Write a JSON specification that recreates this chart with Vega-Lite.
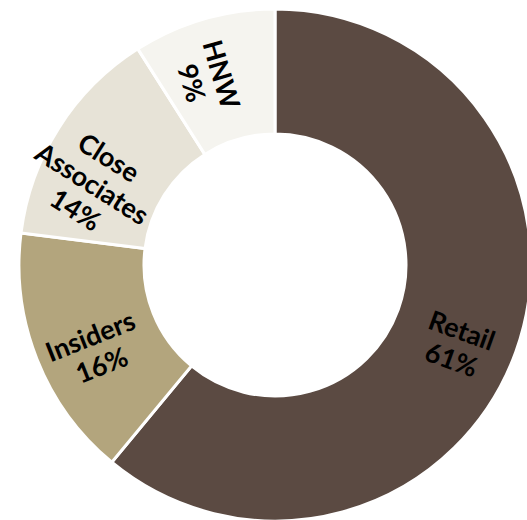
{
  "$schema": "https://vega.github.io/schema/vega-lite/v6.json",
  "width": 504,
  "height": 510,
  "autosize": {"type": "none"},
  "padding": {"left": 23, "top": 10, "right": 0, "bottom": 0},
  "background": "white",
  "config": {"view": {"stroke": null}},
  "data": {
    "values": [
      {"category": "Retail", "value": 61, "order": 1},
      {"category": "Insiders", "value": 16, "order": 2},
      {"category": "Close Associates", "value": 14, "order": 3},
      {"category": "HNW", "value": 9, "order": 4}
    ]
  },
  "encoding": {
    "theta": {"field": "value", "type": "quantitative", "stack": true},
    "order": {"field": "order", "type": "quantitative"}
  },
  "layer": [
    {
      "mark": {"type": "arc", "innerRadius": 131, "outerRadius": 256, "stroke": "white", "strokeWidth": 3},
      "encoding": {
        "color": {
          "field": "category",
          "type": "nominal",
          "scale": {
            "domain": ["Retail", "Insiders", "Close Associates", "HNW"],
            "range": ["#5B4A42", "#B3A57D", "#E7E3D7", "#F5F4EF"]
          },
          "legend": null
        }
      }
    },
    {
      "transform": [
        {"window": [{"op": "sum", "field": "value", "as": "cum"}], "sort": [{"field": "order"}]},
        {"calculate": "(datum.cum - datum.value / 2) * 3.6", "as": "mid"},
        {"calculate": "datum.mid < 180 ? datum.mid - 90 : datum.mid - 270", "as": "rot"},
        {"calculate": "datum.category + ' ' + datum.value + '%'", "as": "label"}
      ],
      "mark": {
        "type": "text",
        "radius": 198,
        "font": "Lato",
        "fontWeight": "bold",
        "fontSize": 27,
        "lineBreak": " ",
        "lineHeight": 31,
        "align": "center",
        "baseline": "middle",
        "color": "#000000"
      },
      "encoding": {
        "text": {"field": "label", "type": "nominal"},
        "angle": {"field": "rot", "type": "quantitative", "scale": null}
      }
    }
  ]
}
